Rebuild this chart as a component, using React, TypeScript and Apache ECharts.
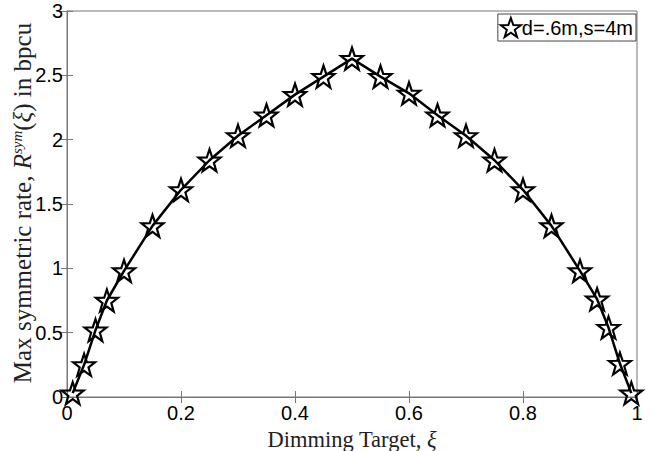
import React, { useEffect, useRef } from "react";
import * as echarts from "echarts";

const xValues = [0.01, 0.03, 0.05, 0.07, 0.1, 0.15, 0.2, 0.25, 0.3, 0.35, 0.4, 0.45, 0.5, 0.55, 0.6, 0.65, 0.7, 0.75, 0.8, 0.85, 0.9, 0.93, 0.95, 0.97, 0.99];
const rateValues = [0.03, 0.25, 0.52, 0.75, 0.98, 1.33, 1.61, 1.84, 2.03, 2.19, 2.35, 2.49, 2.63, 2.49, 2.36, 2.19, 2.03, 1.84, 1.61, 1.33, 0.98, 0.76, 0.54, 0.26, 0.03];
const seriesName = "d=.6m,s=4m";

function starPath(): string {
  const pts: string[] = [];
  for (let k = 0; k < 10; k++) {
    const r = k % 2 === 0 ? 10 : 4;
    const a = (-90 + k * 36) * Math.PI / 180;
    pts.push(`${(r * Math.cos(a)).toFixed(3)} ${(r * Math.sin(a)).toFixed(3)}`);
  }
  return "path://M" + pts.join(" L") + " Z";
}

export default function App() {
  const ref = useRef<HTMLDivElement>(null);
  useEffect(() => {
    if (!ref.current) return;
    const chart = echarts.init(ref.current, undefined, { renderer: "svg" });
    const star = starPath();
    const data = xValues.map((x, i) => [x, rateValues[i]]);
    const axisColor = "#777";
    const tickFont = { fontFamily: "Liberation Sans, Arial, sans-serif", fontSize: 20, color: "#000" };
    const serif = "Liberation Serif, Times New Roman, serif";
    chart.setOption({
      animation: false,
      backgroundColor: "#fff",
      grid: { left: 67, top: 11, right: 21, bottom: 54, show: true, borderColor: axisColor, borderWidth: 1, containLabel: false, outerBoundsMode: "none" },
      legend: {
        right: 22,
        top: 14,
        icon: star,
        itemWidth: 20,
        itemHeight: 20,
        itemGap: 2,
        padding: [3, 3, 3, 2],
        backgroundColor: "#fff",
        borderColor: "#444",
        borderWidth: 1,
        textStyle: { fontFamily: "Liberation Sans, Arial, sans-serif", fontSize: 20, color: "#000", padding: [0, 0, 0, -4] },
        data: [seriesName],
      },
      graphic: [
        {
          type: "text",
          x: 22,
          y: 203,
          rotation: Math.PI / 2,
          style: {
            text: "{a|Max symmetric rate, }{i|R}{s|sym}{a|(}{i|ξ}{a|) in bpcu}",
            align: "center",
            verticalAlign: "middle",
            rich: {
              a: { fontFamily: serif, fontSize: 25, fill: "#222" },
              i: { fontFamily: serif, fontStyle: "italic", fontSize: 25, fill: "#222" },
              s: { fontFamily: serif, fontStyle: "italic", fontSize: 15, fill: "#222", verticalAlign: "top", padding: [0, 0, 10, 0] },
            },
          },
        },
      ],
      xAxis: [
        {
          type: "value", min: 0, max: 1, interval: 0.2, position: "bottom",
          axisLine: { show: true, lineStyle: { color: axisColor } },
          axisTick: { inside: true, length: 6, lineStyle: { color: axisColor } },
          axisLabel: { ...tickFont, margin: 6 },
          splitLine: { show: false },
          name: "Dimming Target, {i|ξ}",
          nameLocation: "middle",
          nameGap: 21,
          nameTextStyle: { fontFamily: serif, fontSize: 22.5, color: "#222", rich: { i: { fontFamily: serif, fontStyle: "italic", fontSize: 22.5, color: "#222" } } },
        },
        {
          type: "value", min: 0, max: 1, interval: 0.2, position: "top",
          axisLine: { show: true, lineStyle: { color: axisColor } },
          axisTick: { inside: true, length: 6, lineStyle: { color: axisColor } },
          axisLabel: { show: false },
          splitLine: { show: false },
        },
      ],
      yAxis: [
        {
          type: "value", min: 0, max: 3, interval: 0.5, position: "left",
          axisLine: { show: true, lineStyle: { color: axisColor } },
          axisTick: { inside: true, length: 6, lineStyle: { color: axisColor } },
          axisLabel: { ...tickFont, margin: 4 },
          splitLine: { show: false },
        },
        {
          type: "value", min: 0, max: 3, interval: 0.5, position: "right",
          axisLine: { show: true, lineStyle: { color: axisColor } },
          axisTick: { inside: true, length: 6, lineStyle: { color: axisColor } },
          axisLabel: { show: false },
          splitLine: { show: false },
        },
      ],
      series: [
        {
          name: seriesName,
          type: "line",
          data,
          symbol: star,
          symbolSize: 22,
          showAllSymbol: true,
          lineStyle: { color: "#000", width: 2.5 },
          itemStyle: { color: "rgba(255,255,255,0)", borderColor: "#000", borderWidth: 2.2 },
        },
      ],
    });
    return () => chart.dispose();
  }, []);
  return <div ref={ref} style={{ position: "absolute", left: 0, top: 0, width: 658, height: 451 }} />;
}
